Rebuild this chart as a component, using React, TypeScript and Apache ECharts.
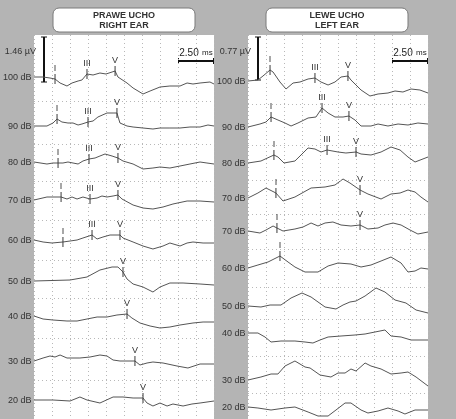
import React, { useEffect, useRef } from "react";
import * as echarts from "echarts";

type Pt = [number, number];

// time axis in ms (0..12.5, 1.25 ms per division), amplitude in arbitrary units (upwards positive)
const timeMax = 12.5;
const timeStep = 1.25;

const leftLabels = ["100 dB", "90 dB", "80 dB", "70 dB", "60 dB", "50 dB", "40 dB", "30 dB", "20 dB"];
const leftLevels = [342, 293, 257, 219, 179, 138, 103, 58, 19];
const rightLabels = ["100 dB", "90 dB", "80 dB", "70 dB", "70 dB", "60 dB", "50 dB", "40 dB", "30 dB", "20 dB"];
const rightLevels = [338, 292, 256, 221, 188, 151, 113, 86, 39, 12];

// ---- right ear (left panel) ----
const left100: Pt[] = [[0,0],[0.63,0],[1.11,-1],[1.46,-2],[1.81,-6],[2.29,-9],[2.64,-6],[3.06,-4],[3.33,-3],[3.68,3],[4.1,2],[4.58,4],[5.0,3],[5.42,5],[5.63,6],[5.83,0],[6.46,-6],[6.88,-11],[7.57,-17],[8.06,-14],[8.75,-10],[9.44,-9],[10.14,-9],[10.63,-6],[11.04,-7],[11.53,-6],[12.22,-5],[12.5,-7]];
const left90: Pt[] = [[0,0],[0.9,0],[1.32,3],[1.6,7],[1.94,4],[2.36,3],[2.71,3],[3.06,1],[3.33,2],[3.75,4],[4.1,5],[4.44,9],[5.07,13],[5.49,13],[5.76,13],[5.97,3],[6.46,0],[6.88,-1],[7.57,-2],[8.26,-3],[8.75,-2],[9.44,-2],[10.14,-2],[10.83,-1],[11.53,-1],[12.08,1],[12.5,0]];
const left80: Pt[] = [[0,0],[0.9,-2],[1.32,-1],[1.67,-1],[2.01,-1],[2.36,0],[2.71,-1],[3.06,-2],[3.4,1],[3.82,3],[4.24,4],[4.58,6],[4.93,8],[5.42,6],[5.83,4],[6.18,1],[6.88,-2],[7.57,-7],[8.26,-6],[8.75,-5],[9.44,-6],[10.14,-4],[10.83,-2],[11.53,0],[12.01,-1],[12.5,-2]];
const left70: Pt[] = [[0,0],[0.9,3],[1.32,3],[1.88,3],[2.29,1],[2.64,3],[2.99,1],[3.4,3],[3.89,1],[4.38,2],[4.72,4],[5.07,3],[5.49,4],[5.83,5],[6.11,1],[6.88,-5],[7.57,-8],[8.26,-9],[8.96,-7],[9.65,-4],[10.63,-1],[11.53,-1],[12.5,-2]];
const left60: Pt[] = [[0,0],[0.63,-2],[1.25,-3],[2.01,-2],[2.5,-1],[2.99,0],[3.4,2],[4.03,5],[4.38,1],[4.79,3],[5.28,5],[5.97,5],[6.18,2],[6.88,-2],[7.57,-6],[8.26,-9],[8.96,-6],[9.44,-3],[10.14,-6],[10.63,-3],[11.04,-2],[11.74,-3],[12.5,-3]];
const left50: Pt[] = [[0,0],[2.5,1],[3.68,4],[4.58,11],[5.42,14],[5.83,14],[6.18,9],[6.46,2],[6.88,-3],[7.57,-6],[8.26,-11],[8.75,-6],[9.44,-2],[10.35,-2],[11.53,-3],[12.5,-4]];
const left40: Pt[] = [[0,0],[0.63,-3],[1.32,-4],[2.29,-5],[2.99,-5],[3.68,-3],[4.38,-1],[5.07,-1],[5.76,1],[6.46,2],[6.8,-2],[7.36,-7],[8.06,-10],[8.75,-12],[9.44,-11],[10.14,-9],[11.04,-7],[11.74,-6],[12.5,-6]];
const left30: Pt[] = [[0,0],[0.63,3],[1.11,5],[1.46,4],[1.81,6],[2.29,3],[3.19,3],[3.89,4],[4.58,6],[5.07,5],[5.49,1],[5.97,0],[7.01,0],[7.36,-4],[7.85,-2],[8.26,-1],[8.96,-2],[9.93,-5],[10.69,-7],[11.53,-3],[12.5,-3]];
const left20: Pt[] = [[0,0],[1.32,0],[2.5,-1],[3.19,3],[3.68,0],[4.58,-3],[5.49,3],[6.18,3],[6.88,2],[7.57,2],[7.85,-3],[8.26,-6],[8.75,-3],[9.24,-6],[9.65,-4],[10.35,-6],[10.97,-4],[11.53,-3],[12.5,-1]];

// ---- left ear (right panel) ----
const right100: Pt[] = [[0,0],[0.69,1],[1.04,5],[1.53,11],[1.74,9],[2.22,-1],[2.64,-8],[3.13,-2],[3.61,-1],[4.17,2],[4.65,3],[5.07,-1],[5.56,-4],[6.04,-1],[6.46,4],[6.94,5],[7.15,1],[7.85,-9],[8.47,-15],[9.03,-13],[9.72,-12],[10.21,-10],[10.76,-11],[11.32,-8],[11.94,-9],[12.5,-12]];
const right90: Pt[] = [[0,0],[0.83,3],[1.25,5],[1.6,10],[2.08,7],[2.57,4],[2.99,1],[3.47,4],[4.17,9],[4.72,10],[5.14,19],[5.56,14],[6.04,10],[6.6,10],[7.01,11],[7.43,7],[7.85,1],[8.54,1],[9.03,3],[9.72,1],[10.42,3],[11.11,2],[11.8,4],[12.5,3]];
const right80: Pt[] = [[0,0],[0.9,2],[1.8,8],[2.08,6],[2.5,0],[3.26,2],[4.17,15],[4.65,14],[5.07,11],[5.49,13],[6.25,11],[6.8,10],[7.5,11],[7.85,9],[8.54,8],[9.24,11],[9.93,16],[10.56,13],[11.11,6],[11.6,1],[12.5,6]];
const right70a: Pt[] = [[0,0],[0.69,5],[1.25,10],[1.94,5],[2.43,-3],[3.26,1],[4.38,10],[5.35,11],[6.04,13],[6.6,19],[7.08,15],[7.78,8],[8.33,4],[9.24,-1],[9.93,4],[10.56,5],[11.11,8],[11.6,6],[12.01,1],[12.5,-4]];
const right70b: Pt[] = [[0,0],[0.83,-2],[1.25,1],[1.74,5],[2.01,3],[2.43,0],[3.26,2],[3.82,4],[4.38,8],[4.86,5],[5.35,8],[5.9,9],[6.46,6],[7.15,5],[7.78,6],[8.33,2],[9.03,3],[9.51,6],[10.07,8],[10.63,6],[11.25,1],[11.8,-3],[12.5,-1]];
const right60: Pt[] = [[0,0],[0.69,3],[1.39,6],[2.22,12],[2.78,6],[3.26,1],[3.96,-4],[4.86,-4],[5.56,2],[6.25,5],[7.15,4],[7.85,1],[8.54,3],[9.24,7],[9.93,11],[10.63,5],[11.11,-4],[11.6,-3],[12.01,0],[12.5,-1]];
const right50: Pt[] = [[0,0],[0.9,-1],[1.53,1],[2.29,1],[2.99,8],[3.75,13],[4.38,9],[5.35,-1],[6.11,-3],[6.6,1],[7.08,4],[7.5,5],[8.13,10],[8.89,18],[9.51,14],[10.21,6],[10.97,3],[11.67,-4],[12.5,-7]];
const right40: Pt[] = [[0,0],[0.69,0],[1.18,-4],[1.6,-9],[2.29,-8],[3.26,-8],[3.96,-9],[4.51,-10],[5.0,-7],[5.56,-4],[6.46,-3],[7.43,-2],[8.13,-1],[8.82,1],[9.51,3],[9.93,-3],[10.63,-4],[11.32,-7],[12.5,-7]];
const right30: Pt[] = [[0,0],[0.9,3],[1.6,6],[2.08,6],[2.57,14],[3.26,19],[3.96,13],[4.31,12],[5.0,5],[5.76,3],[6.25,7],[6.74,7],[7.15,11],[7.5,9],[8.13,17],[8.54,14],[9.24,11],[9.93,6],[10.63,7],[11.11,8],[11.67,3],[12.5,-6]];
const right20: Pt[] = [[0,0],[0.69,-1],[1.6,-3],[2.57,-1],[3.26,0],[4.17,-5],[4.86,-9],[5.56,-9],[6.11,-3],[6.74,4],[7.15,4],[7.85,-3],[8.33,-6],[9.03,-4],[9.72,-1],[10.42,-4],[10.9,-7],[11.6,-3],[12.5,-3]];

const leftTraces = [left100, left90, left80, left70, left60, left50, left40, left30, left20];
const rightTraces = [right100, right90, right80, right70a, right70b, right60, right50, right40, right30, right20];

// wave peak markers: [name, latency ms]
const leftPeaks: [string, number][][] = [
  [["I", 1.46], ["III", 3.68], ["V", 5.63]],
  [["I", 1.6], ["III", 3.75], ["V", 5.76]],
  [["I", 1.67], ["III", 3.82], ["V", 5.83]],
  [["I", 1.88], ["III", 3.89], ["V", 5.83]],
  [["I", 2.01], ["III", 4.03], ["V", 5.97]],
  [["V", 6.18]],
  [["V", 6.46]],
  [["V", 7.01]],
  [["V", 7.57]],
];
const rightPeaks: [string, number][][] = [
  [["I", 1.53], ["III", 4.65], ["V", 6.94]],
  [["I", 1.6], ["III", 5.14], ["V", 7.01]],
  [["I", 1.8], ["III", 5.49], ["V", 7.5]],
  [["I", 1.94], ["V", 7.78]],
  [["I", 2.01], ["V", 7.78]],
  [["I", 2.22]],
  [], [], [], [],
];

const titles = [["PRAWE UCHO", "RIGHT EAR"], ["LEWE UCHO", "LEFT EAR"]];
const ampScales = ["1.46 µV", "0.77 µV"];
const timeScale = "2.50";

const FONT = "'Liberation Sans', Arial, sans-serif";
const TRACE = "#555555";
const TEXT = "#333333";
const BG = "#b4b4b4";

function interp(tr: Pt[], t: number): number {
  for (let i = 0; i < tr.length - 1; i++) {
    const [t0, a0] = tr[i];
    const [t1, a1] = tr[i + 1];
    if (t >= t0 && t <= t1) return t1 === t0 ? a0 : a0 + ((a1 - a0) * (t - t0)) / (t1 - t0);
  }
  return tr[tr.length - 1][1];
}

function panelSeries(gi: number, traces: Pt[][], levels: number[], labels: string[], peaks: [string, number][][]) {
  const out: any[] = traces.map((tr, i) => {
    const lv = levels[i];
    const mp: any[] = [
      {
        coord: [0, lv],
        symbol: "circle",
        symbolSize: 1,
        itemStyle: { color: "rgba(0,0,0,0)" },
        label: { show: true, position: "left", distance: 2, formatter: labels[i], fontSize: 9, color: TEXT, fontFamily: FONT },
      },
    ];
    (peaks[i] || []).forEach(([name, t]) => {
      mp.push({
        coord: [t, lv + interp(tr, t)],
        symbol: "rect",
        symbolSize: [1, 10],
        itemStyle: { color: "#3a3a3a" },
        label: { show: true, position: "top", distance: 2, formatter: name, fontSize: 9, color: TEXT, fontFamily: FONT },
      });
    });
    return {
      type: "line",
      xAxisIndex: gi,
      yAxisIndex: gi,
      color: TRACE,
      data: tr.map(([t, a]) => [t, lv + a]),
      symbol: "none",
      showSymbol: false,
      silent: true,
      clip: false,
      lineStyle: { color: TRACE, width: 1 },
      markPoint: {
        silent: true,
        animation: false,
        itemStyle: { color: "#3a3a3a" },
        label: { color: TEXT, fontFamily: FONT, fontSize: 9 },
        data: mp,
      },
    };
  });
  // horizontal dotted separators between traces
  const seps: number[] = [];
  for (let i = 0; i < levels.length - 1; i++) seps.push((levels[i] + levels[i + 1]) / 2);
  out.push({
    type: "line",
    xAxisIndex: gi,
    yAxisIndex: gi,
    color: TRACE,
    data: [],
    silent: true,
    markLine: {
      silent: true,
      symbol: "none",
      label: { show: false },
      lineStyle: { color: "#b8b8b8", type: [1, 3], width: 1 },
      data: seps.map((y) => ({ yAxis: y })),
    },
  });
  return out;
}

export default function App() {
  const ref = useRef<HTMLDivElement>(null);
  useEffect(() => {
    if (!ref.current) return;
    const chart = echarts.init(ref.current, undefined, { renderer: "svg" });
    const grids = [
      { left: 34, top: 35, width: 180, height: 384 },
      { left: 248, top: 35, width: 180, height: 384 },
    ];
    const xAxes = grids.map((_, i) => ({
      type: "value",
      gridIndex: i,
      min: 0,
      max: timeMax,
      interval: timeStep,
      axisLine: { show: false },
      axisTick: { show: false },
      axisLabel: { show: false },
      splitLine: { show: true, lineStyle: { color: "#b8b8b8", type: [1, 3], width: 1 } },
    }));
    const yAxes = grids.map((_, i) => ({
      type: "value",
      gridIndex: i,
      min: 0,
      max: 384,
      axisLine: { show: false },
      axisTick: { show: false },
      axisLabel: { show: false },
      splitLine: { show: false },
    }));

    const box = (cx: number, lines: string[]) => ({
      type: "group",
      children: [
        { type: "rect", shape: { x: cx - 71, y: 8, width: 142, height: 24, r: 6 }, style: { fill: "#fff", stroke: "#7a7a7a", lineWidth: 1 } },
        { type: "text", x: cx, y: 15, style: { text: lines[0], fontSize: 9, fontWeight: "bold", fontFamily: FONT, fill: TEXT, align: "center", verticalAlign: "middle" } },
        { type: "text", x: cx, y: 25, style: { text: lines[1], fontSize: 9, fontWeight: "bold", fontFamily: FONT, fill: TEXT, align: "center", verticalAlign: "middle" } },
      ],
    });
    const ampBar = (x: number, y0: number, y1: number, label: string, lx: number) => ({
      type: "group",
      children: [
        { type: "line", shape: { x1: x, y1: y0, x2: x, y2: y1 }, style: { stroke: "#111", lineWidth: 2 } },
        { type: "line", shape: { x1: x - 3, y1: y0, x2: x + 3, y2: y0 }, style: { stroke: "#111", lineWidth: 1 } },
        { type: "line", shape: { x1: x - 3, y1: y1, x2: x + 3, y2: y1 }, style: { stroke: "#111", lineWidth: 1 } },
        { type: "text", x: lx, y: 51, style: { text: label, fontSize: 9, fontFamily: FONT, fill: TEXT, align: "right", verticalAlign: "middle" } },
      ],
    });
    const timeBar = (x0: number, x1: number) => ({
      type: "group",
      children: [
        { type: "line", shape: { x1: x0, y1: 61, x2: x1, y2: 61 }, style: { stroke: "#111", lineWidth: 2 } },
        { type: "line", shape: { x1: x0 + 0.5, y1: 58, x2: x0 + 0.5, y2: 64 }, style: { stroke: "#111", lineWidth: 1 } },
        { type: "line", shape: { x1: x1 - 0.5, y1: 58, x2: x1 - 0.5, y2: 64 }, style: { stroke: "#111", lineWidth: 1 } },
        {
          type: "text",
          x: (x0 + x1) / 2,
          y: 52,
          style: {
            text: `{a|${timeScale}} {b|ms}`,
            align: "center",
            verticalAlign: "middle",
            rich: {
              a: { fontSize: 10, fontFamily: FONT, fill: "#222" },
              b: { fontSize: 8, fontFamily: FONT, fill: "#222" },
            },
          },
        },
      ],
    });

    chart.setOption({
      animation: false,
      color: [TRACE],
      backgroundColor: BG,
      grid: grids.map((g) => ({ ...g, show: true, backgroundColor: "#ffffff", borderWidth: 0 })),
      xAxis: xAxes,
      yAxis: yAxes,
      series: [
        ...panelSeries(0, leftTraces, leftLevels, leftLabels, leftPeaks),
        ...panelSeries(1, rightTraces, rightLevels, rightLabels, rightPeaks),
      ],
      graphic: [
        box(124, titles[0]),
        box(337, titles[1]),
        ampBar(44, 37, 82, ampScales[0], 36),
        ampBar(258, 37, 80, ampScales[1], 251),
        timeBar(178, 214),
        timeBar(392, 428),
      ],
    });
    return () => chart.dispose();
  }, []);
  return (
    <div
      ref={ref}
      style={{ position: "fixed", left: 0, top: 0, width: 456, height: 419, willChange: "transform", transform: "translateZ(0)" }}
    />
  );
}
